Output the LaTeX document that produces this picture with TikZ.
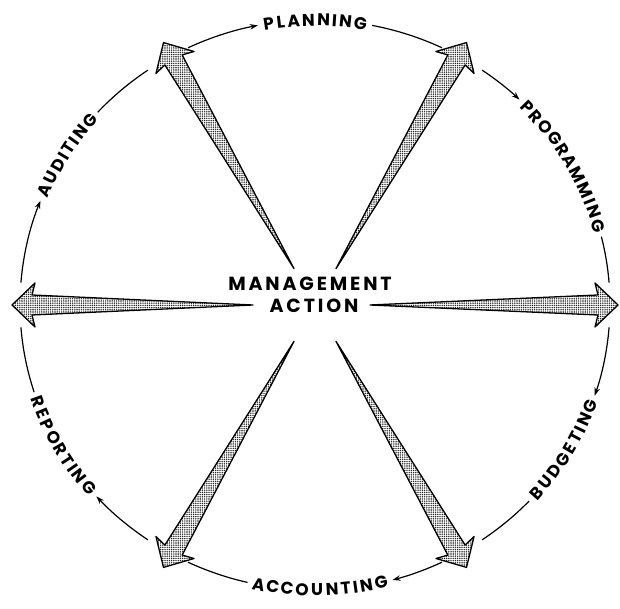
\documentclass[tikz,border=0pt]{standalone}
\usepackage{fontspec}
\setmainfont{Poppins}
\newfontfamily\lblfont{Poppins}[LetterSpace=15]
\usetikzlibrary{arrows.meta,patterns.meta}
\def\cx{315}
\def\cy{304}
\def\rx{295}
\def\ry{285}
\def\rr{290}
\def\lsp{1.8}
\def\gap{4.5}
\def\pad{1}
\def\fsz{17}
% approximate advance widths of Poppins Bold capitals (1/1000 em)
\def\wdA{733}\def\wdB{690}\def\wdC{720}\def\wdD{745}\def\wdE{600}
\def\wdG{760}\def\wdI{290}\def\wdL{560}\def\wdM{930}\def\wdN{770}
\def\wdO{800}\def\wdP{650}\def\wdR{660}\def\wdT{620}\def\wdU{740}
\newcommand\labelfont{\bfseries\fontsize{17}{20}\selectfont}
\newcommand\curvedword[4]{% #1 mid angle, #2 sign (+1 top, -1 bottom), #3 letters, #4 name
  \gdef\totw{0}%
  \foreach \ch in {#3}{\edef\cw{\csname wd\ch\endcsname}\pgfmathsetmacro\tmp{\totw+\cw*\fsz/1000+\lsp}\xdef\totw{\tmp}}%
  \pgfmathsetmacro\tmp{(\totw-\lsp)/\rr*57.2958}\xdef\spanang{\tmp}%
  \pgfmathsetmacro\tmp{#1-\spanang/2}\xdef\lablo{\tmp}%
  \pgfmathsetmacro\tmp{#1+\spanang/2}\xdef\labhi{\tmp}%
  \pgfmathsetmacro\tmp{#1+#2*\spanang/2}\xdef\curang{\tmp}%
  \foreach \ch [count=\k] in {#3}{%
    \edef\cw{\csname wd\ch\endcsname}%
    \pgfmathsetmacro\ang{\curang-#2*(\cw*\fsz/2000)/\rr*57.2958}%
    \pgfmathsetmacro\rot{\ang-90*#2}%
    \node[ringletter, rotate=\rot] (#4-\k) at ({\cx+\rx*cos(\ang)},{\cy+\ry*sin(\ang)}) {\ch};
    \pgfmathsetmacro\tmp{\curang-#2*(\cw*\fsz/1000+\lsp)/\rr*57.2958}\xdef\curang{\tmp}%
  }}
\newcommand\ringseg[3]{%
  \draw[ring,#3] (\cx,\cy) ++({\rx*cos(#1)},{\ry*sin(#1)}) arc[start angle={#1}, end angle={#2}, x radius=\rx, y radius=\ry];}
% sector between arrows #1 (larger angle) and #2, label at #3 with sign #4, letters #5, name #6
\newcommand\sector[6]{%
  \curvedword{#3}{#4}{#5}{#6}%
  \ringseg{#1-\gap}{\labhi+\pad}{tip}%
  \ringseg{\lablo-\pad}{#2+\gap}{}}
\tikzset{
  bigarrow/.style={draw=black, line width=1.3pt, line join=round,
    pattern={Dots[distance=2.2pt,radius=0.8pt]}, pattern color=black!85},
  ring/.style={line width=1.2pt, black},
  tip/.style={-{Stealth[length=8pt,width=5.5pt]}},
  ringletter/.style={font=\labelfont, inner sep=0pt, text height=11.8pt, text depth=0pt, anchor=center},
  center text/.style={font=\lblfont\bfseries\fontsize{19}{22}\selectfont, inner sep=0pt, anchor=base}
}
\begin{document}
\begin{tikzpicture}[x=1pt,y=1pt]
\useasboundingbox (0,0) rectangle (620,609);
\fill[white] (0,0) rectangle (620,609);
% big tapered arrows
\foreach \a/\s in {0/55,60/42,120/42,180/62,-60/42,-120/42}
  \draw[bigarrow, shift={(\cx,\cy)}, rotate=\a]
    (\s,0) -- (283,10) -- (280,22) -- (303,0) -- (280,-22) -- (283,-10) -- cycle;
% centre text
\node[center text] (mgmt) at (310,318) {MANAGEMENT};
\node[center text] (action) at (314,296) {ACTION};
% ring sectors, clockwise flow
\sector{120}{60}{90}{1}{P,L,A,N,N,I,N,G}{plan}
\sector{60}{0}{30}{1}{P,R,O,G,R,A,M,M,I,N,G}{prog}
\sector{0}{-60}{-31}{-1}{B,U,D,G,E,T,I,N,G}{budg}
\sector{-60}{-120}{-89}{-1}{A,C,C,O,U,N,T,I,N,G}{acct}
\sector{-120}{-180}{-150}{-1}{R,E,P,O,R,T,I,N,G}{repo}
\sector{180}{120}{148}{1}{A,U,D,I,T,I,N,G}{audi}
\end{tikzpicture}
\end{document}
